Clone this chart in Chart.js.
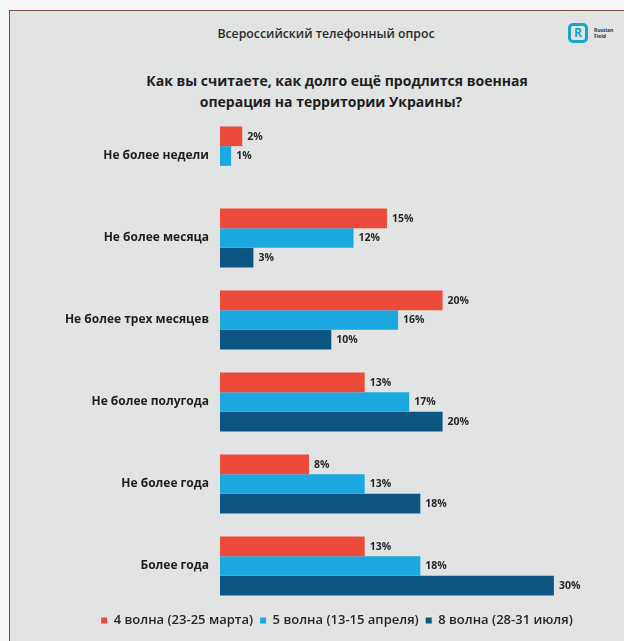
<!DOCTYPE html>
<html>
<head>
<meta charset="utf-8">
<script src="https://cdn.jsdelivr.net/npm/chart.js@4"></script>
<style>
  html, body { margin:0; padding:0; background:#f7f7f7; }
  body { width:624px; height:641px; position:relative; overflow:hidden; font-family:"Open Sans", sans-serif; }
  #panel { position:absolute; left:9px; top:10px; width:615px; height:631px; background:#e2e4e3;
           border-left:1px solid #7d4f43; border-top:1px solid #7d4f43; }
  .t { position:absolute; transform:translate(-50%,-50%); white-space:nowrap; color:#1e1e1e; }
  #h1 { left:326px; top:33px; font-size:12.3px; font-weight:600; color:#2a2a2a; }
  #l1 { left:337px; top:80px; font-size:14px; font-weight:700; }
  #l2 { left:331px; top:101px; font-size:14px; font-weight:700; }
  #logo { position:absolute; left:568px; top:23px; width:14px; height:14px; border:3px solid #19a5c9; border-radius:5px;
          color:#19a5c9; font:700 12px "Open Sans", sans-serif; line-height:14px; text-align:center; }
  #logotxt { position:absolute; left:594px; top:27px; font:700 5px "Open Sans", sans-serif; line-height:6px; color:#333; }
  canvas { position:absolute; left:0; top:0; }
</style>
</head>
<body>
<div id="panel"></div>
<div class="t" id="h1">Всероссийский телефонный опрос</div>
<div class="t" id="l1">Как вы считаете, как долго ещё продлится военная</div>
<div class="t" id="l2">операция на территории Украины?</div>
<div id="logo">R</div>
<div id="logotxt">Russian<br>Field</div>
<canvas id="c" width="624" height="641"></canvas>
<script>
const categories = ["Не более недели", "Не более месяца", "Не более трех месяцев", "Не более полугода", "Не более года", "Более года"];
const wave4 = [2, 15, 20, 13, 8, 13];
const wave5 = [1, 12, 16, 17, 13, 18];
const wave8 = [null, 3, 10, 20, 18, 30];
const seriesNames = ["4 волна (23-25 марта)", "5 волна (13-15 апреля)", "8 волна (28-31 июля)"];
const xMax = 35.4;

const valueLabels = {
  id: 'valueLabels',
  afterDatasetsDraw(chart) {
    const ctx = chart.ctx;
    ctx.save();
    ctx.font = '700 10.5px "Open Sans", sans-serif';
    ctx.fillStyle = '#262626';
    ctx.textBaseline = 'middle';
    ctx.textAlign = 'left';
    chart.data.datasets.forEach((ds, i) => {
      const meta = chart.getDatasetMeta(i);
      meta.data.forEach((bar, j) => {
        const v = ds.data[j];
        if (v === null || v === undefined) return;
        ctx.fillText(v + '%', bar.x + 5, bar.y + 0.5);
      });
    });
    ctx.restore();
  }
};

new Chart(document.getElementById('c'), {
  type: 'bar',
  data: {
    labels: categories,
    datasets: [
      { label: seriesNames[0], data: wave4, backgroundColor: '#ec4a3a' },
      { label: seriesNames[1], data: wave5, backgroundColor: '#1ba8df' },
      { label: seriesNames[2], data: wave8, backgroundColor: '#0d5682' }
    ]
  },
  options: {
    indexAxis: 'y',
    responsive: false,
    animation: false,
    devicePixelRatio: 1,
    layout: { padding: { left: 60, right: 10, top: 115, bottom: 4 } },
    datasets: { bar: { categoryPercentage: 0.72, barPercentage: 1.0, borderWidth: 0 } },
    scales: {
      x: { display: false, min: 0, max: xMax },
      y: {
        grid: { display: false, drawTicks: false },
        border: { display: false },
        ticks: { padding: 11, color: '#1e1e1e', font: { family: '"Open Sans", sans-serif', size: 12, weight: '700' } },
        afterFit(scale) { scale.width = 160; }
      }
    },
    plugins: {
      title: { display: false },
      tooltip: { enabled: false },
      legend: {
        position: 'bottom',
        align: 'center',
        labels: {
          usePointStyle: true, pointStyle: 'rect', boxWidth: 6, boxHeight: 6, padding: 7,
          color: '#262626', font: { family: '"Open Sans", sans-serif', size: 13, weight: '600' }
        }
      }
    }
  },
  plugins: [valueLabels]
});
</script>
</body>
</html>
